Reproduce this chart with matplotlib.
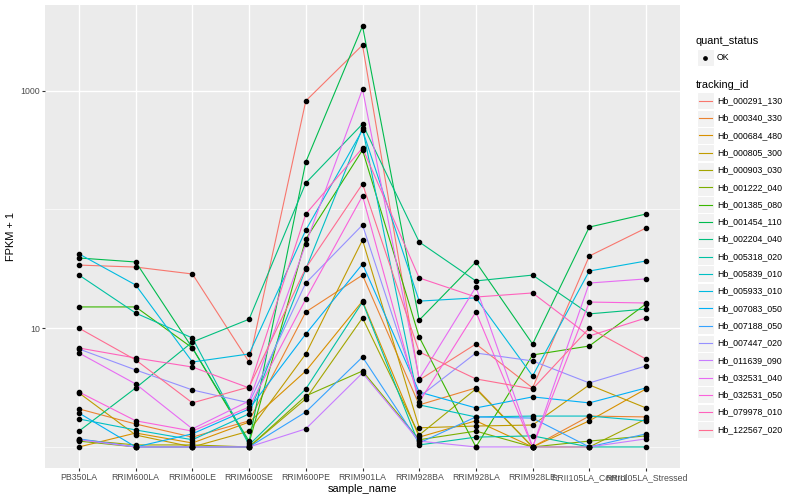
import numpy as np
import matplotlib
matplotlib.use("Agg")
import matplotlib.pyplot as plt
from matplotlib.patches import Rectangle

plt.rcParams['font.family'] = ['Liberation Sans', 'DejaVu Sans']

# =========================
# DATA
# =========================
samples = ["PB350LA", "RRIM600LA", "RRIM600LE", "RRIM600SE", "RRIM600PE",
           "RRIM901LA", "RRIM928BA", "RRIM928LA", "RRIM928LE",
           "RRII105LA_Control", "RRII105LA_Stressed"]

genes = ["Hb_000291_130", "Hb_000340_330", "Hb_000684_480", "Hb_000805_300",
         "Hb_000903_030", "Hb_001222_040", "Hb_001385_080", "Hb_001454_110",
         "Hb_002204_040", "Hb_005318_020", "Hb_005839_010", "Hb_005933_010",
         "Hb_007083_050", "Hb_007188_050", "Hb_007447_020", "Hb_011639_090",
         "Hb_032531_040", "Hb_032531_050", "Hb_079978_010", "Hb_122567_020"]

# ggplot default hue palette, 20 levels
colors = ["#F8766D", "#EA8331", "#D89000", "#C09B00", "#A3A500", "#7CAE00",
          "#39B600", "#00BB4E", "#00BF7D", "#00C1A3", "#00BFC4", "#00BAE0",
          "#00B0F6", "#35A2FF", "#9590FF", "#C77CFF", "#E76BF3", "#FA62DB",
          "#FF62BC", "#FF6C91"]

# FPKM + 1, one row per gene, one column per sample
fpkm_plus_1 = [
    [34, 32.7, 28.6, 5.19, 820, 2420, 3.66, 7.36, 3.14, 40.5, 69.7],
    [2.09, 1.56, 1.21, 1.66, 13.7, 28, 2.26, 3.14, 1, 1.82, 1.79],
    [1, 1.31, 1.08, 1.62, 4.36, 16.9, 1.21, 1.66, 1, 1.66, 3.08],
    [2.85, 1.26, 1, 1.36, 6.07, 55.2, 1.45, 1.5, 1.53, 3.33, 2.13],
    [1.15, 1.04, 1.04, 1, 2.54, 12.2, 1.26, 3.08, 1, 1, 1.72],
    [1.12, 1, 1, 1, 2.69, 4.36, 1.15, 1.36, 1, 1.12, 1.24],
    [15.1, 15.1, 6.81, 1.08, 56.3, 316, 8.43, 1, 5.95, 7.08, 16],
    [39, 36.1, 6.81, 1.12, 251, 3500, 11.7, 36.1, 7.36, 71, 91.5],
    [1.36, 3.14, 7.65, 11.9, 167, 524, 53.2, 25, 28, 13.2, 14.5],
    [28, 13.4, 8.27, 1.04, 3.08, 16.6, 1.04, 1.21, 1.24, 1, 1],
    [1.72, 1.39, 1.15, 1.9, 31.5, 484, 2.26, 1.79, 1.82, 1.82, 1.66],
    [42.2, 23.1, 5.19, 6.07, 67, 466, 16.9, 18, 3.96, 30.3, 36.8],
    [1.93, 1, 1.29, 2.09, 8.94, 34.7, 2.9, 2.13, 2.64, 2.35, 3.14],
    [1.17, 1, 1, 1, 1.97, 5.72, 1.08, 1.79, 1.75, 1, 1.29],
    [6.68, 4.45, 3.02, 2.35, 24, 74, 2.64, 6.18, 5.3, 3.46, 4.81],
    [1.15, 1, 1, 1, 1.42, 4.2, 1.12, 1, 1, 1, 1.17],
    [6.18, 3.39, 1.42, 2.44, 51.2, 1031, 3.74, 22.2, 1, 24, 26],
    [2.9, 1.66, 1.36, 2.17, 17.6, 130, 2.39, 13.7, 1, 16.6, 16.3],
    [6.81, 5.61, 4.71, 3.14, 91.5, 329, 26.5, 18.3, 19.8, 8.6, 12.2],
    [10, 5.4, 2.35, 3.2, 32.1, 164, 6.31, 3.74, 3.08, 10, 5.5],
]

quant_status = ["OK"]

# =========================
# PLOT
# =========================
W, H = 800, 500
fig = plt.figure(figsize=(8, 5), dpi=100)
ax = fig.add_axes([45 / W, 1 - 468 / H, 635 / W, 463 / H])
ax.set_facecolor("#EBEBEB")

x = np.arange(len(samples))
for row, col in zip(fpkm_plus_1, colors):
    ax.plot(x, row, color=col, lw=0.8, zorder=3)
for row in fpkm_plus_1:
    ax.plot(x, row, ls="none", marker="o", ms=3.0, color="black", zorder=4)

ax.set_yscale("log")
lo, hi = np.log10(np.min(fpkm_plus_1)), np.log10(np.max(fpkm_plus_1))
pad = (hi - lo) * 0.05
ax.set_ylim(10 ** (lo - pad), 10 ** (hi + pad))
ax.set_xlim(-0.6, len(samples) - 0.4)

ax.set_yticks([10, 1000])
ax.set_yticklabels(["10", "1000"])
ax.set_yticks([1, 100], minor=True)
ax.yaxis.set_minor_formatter(matplotlib.ticker.NullFormatter())
ax.set_xticks(x)
ax.set_xticklabels(samples)

ax.grid(True, which="major", color="white", lw=1.0, zorder=1)
ax.grid(True, which="minor", axis="y", color="white", lw=0.5, zorder=1)
ax.set_axisbelow(True)
for s in ax.spines.values():
    s.set_visible(False)

ax.tick_params(which="major", length=2.2, width=0.8, color="#333333",
               labelsize=6.3, labelcolor="#4D4D4D", pad=1.5)
ax.tick_params(which="minor", length=0)

ax.set_xlabel("sample_name", fontsize=7.9, labelpad=1.5)
ax.set_ylabel("FPKM + 1", fontsize=7.9, labelpad=3)

# =========================
# LEGEND (ggplot style)
# =========================
lg = fig.add_axes([0, 0, 1, 1], facecolor="none")
lg.set_xlim(0, W)
lg.set_ylim(H, 0)
lg.axis("off")

kx, kw = 696.5, 17
lg.text(696, 40.5, "quant_status", fontsize=7.9, va="center", ha="left")
for i, q in enumerate(quant_status):
    yc = 57.5 + i * 17.3
    lg.add_patch(Rectangle((kx, yc - kw / 2), kw, kw, facecolor="#F2F2F2",
                           edgecolor="white", lw=0.8))
    lg.plot([kx + kw / 2], [yc], marker="o", ms=2.4, color="black")
    lg.text(kx + kw + 3.5, yc, q, fontsize=6.3, va="center", ha="left")

lg.text(696, 85, "tracking_id", fontsize=7.9, va="center", ha="left")
for i, (g, col) in enumerate(zip(genes, colors)):
    yc = 100.8 + i * 17.3
    lg.add_patch(Rectangle((kx, yc - kw / 2), kw, kw, facecolor="#F2F2F2",
                           edgecolor="white", lw=0.8))
    lg.plot([kx + 2, kx + kw - 2], [yc, yc], color=col, lw=0.8)
    lg.text(kx + kw + 3.5, yc, g, fontsize=6.3, va="center", ha="left")

fig.savefig("out.png", dpi=100)
